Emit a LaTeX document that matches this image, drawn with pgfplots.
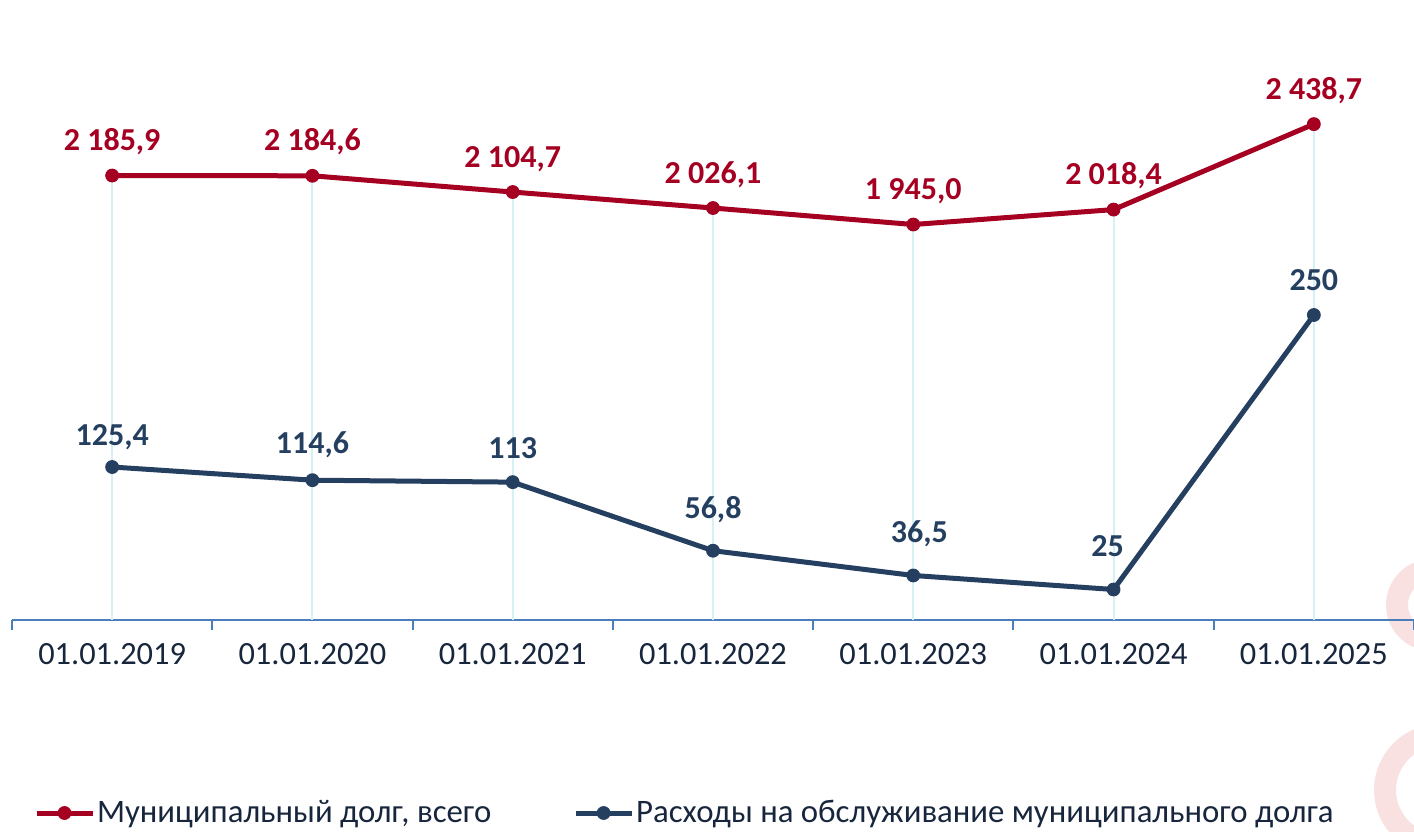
\documentclass[border=0pt]{standalone}
\usepackage{pgfplots}
\pgfplotsset{compat=1.18}
\usepackage{pgfplotstable}
\usepackage{fontspec}
\setmainfont{Carlito}
\definecolor{debtred}{HTML}{A50021}
\definecolor{costblue}{HTML}{243F60}
\definecolor{txt}{HTML}{17263C}
\definecolor{axblue}{HTML}{4A7EBB}
\definecolor{dropc}{HTML}{D5F1F3}
\definecolor{wm}{HTML}{F9E0E1}

\pgfplotstableread{
x y
0 2185.9
1 2184.6
2 2104.7
3 2026.1
4 1945.0
5 2018.4
6 2438.7
}\debt
\pgfplotstableread{
x y dy dx
0 125.4 11 0
1 114.6 13.5 0
2 113 12 0
3 56.8 16 0
4 36.5 16.5 3
5 25 16.5 -3
6 250 12.5 0
}\cost

\begin{document}
\begin{tikzpicture}[x=0.5pt,y=0.5pt]
\useasboundingbox (0,0) rectangle (1414,831);
\begin{scope}
\clip (0,0) rectangle (1414,831);
\draw[wm, line width=11pt] (1432,226) ++(100:35) arc[start angle=100, end angle=250, radius=35];
\draw[wm, line width=11pt] (1440,41) ++(95:55) arc[start angle=95, end angle=265, radius=55];
\end{scope}
\pgfplotsset{base/.style={
  at={(6pt,105.5pt)}, anchor=south west,
  scale only axis, width=701pt, height=305pt,
  xmin=-0.5, xmax=6.5, ymin=0,
  clip=false,
}}
\begin{axis}[base, ymax=3000,
  axis y line=none, axis x line*=bottom,
  x axis line style={axblue, line width=1pt},
  xtick={0,...,6},
  xticklabels={01.01.2019,01.01.2020,01.01.2021,01.01.2022,01.01.2023,01.01.2024,01.01.2025},
  major tick length=0pt,
  extra x ticks={-0.5,0.5,1.5,2.5,3.5,4.5,5.5,6.5},
  extra x tick labels={},
  extra x tick style={tick align=outside, major tick length=5pt, tick style={axblue, line width=1pt}},
  xticklabel style={font=\fontsize{16.2}{19}\selectfont, text=txt, anchor=base, yshift=-22pt},
]
\addplot[ycomb, dropc, line width=1pt, no marks, forget plot] table[x=x,y=y]{\debt};
\addplot[debtred, line width=2.5pt, mark=*, mark size=3.2pt, mark options={solid, line width=0.5pt},
  nodes near coords, point meta=y,
  nodes near coords style={font=\bfseries\fontsize{16}{19}\selectfont, text=debtred, anchor=base, inner sep=0pt, yshift=12.5pt,
    /pgf/number format/fixed, /pgf/number format/fixed zerofill, /pgf/number format/precision=1,
    /pgf/number format/use comma, /pgf/number format/1000 sep={\ }, /pgf/number format/assume math mode=true}
] table[x=x,y=y]{\debt};
\end{axis}
\begin{axis}[base, ymax=500, hide axis,
  legend columns=2,
  legend style={at={(axis description cs:0,0)}, anchor=west, xshift=11pt, yshift=-96.5pt,
    draw=none, fill=none, inner sep=0pt, outer sep=0pt,
    font=\fontsize{16.4}{19}\selectfont, text=txt,
    nodes={inner sep=0pt},
    /tikz/every odd column/.append style={column sep=1pt},
    /tikz/every even column/.append style={column sep=41pt}},
  legend cell align=left,
  legend image code/.code={\draw[mark repeat=2, mark phase=2, #1] plot coordinates {(0pt,0pt)(14pt,0pt)(28pt,0pt)};},
]
\addlegendimage{debtred, line width=2.5pt, mark=*, mark size=3.2pt, mark options={solid, line width=0.5pt}}
\addlegendentry{Муниципальный долг, всего}
\addplot[costblue, line width=2.5pt, mark=*, mark size=3.2pt, mark options={solid, line width=0.5pt},
  visualization depends on={\thisrow{dy} \as \dy},
  visualization depends on={\thisrow{dx} \as \dx},
  nodes near coords, point meta=y,
  nodes near coords style={font=\bfseries\fontsize{16}{19}\selectfont, text=costblue, anchor=base, inner sep=0pt, yshift=\dy pt, xshift=\dx pt,
    /pgf/number format/fixed, /pgf/number format/precision=1,
    /pgf/number format/use comma, /pgf/number format/assume math mode=true}
] table[x=x,y=y]{\cost};
\addlegendentry{Расходы на обслуживание муниципального долга}
\end{axis}
\end{tikzpicture}
\end{document}
